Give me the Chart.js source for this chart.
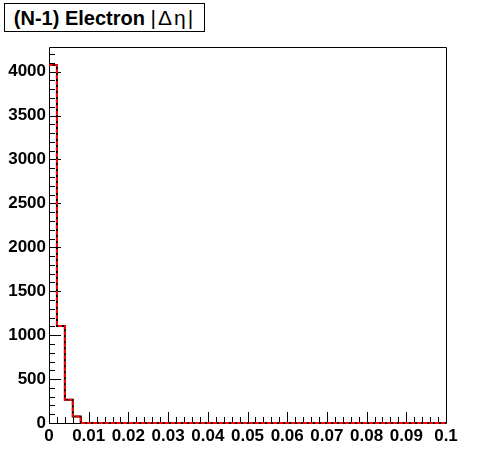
<!DOCTYPE html>
<html>
<head>
<meta charset="utf-8">
<script src="https://cdn.jsdelivr.net/npm/chart.js@4/dist/chart.umd.min.js"></script>
<style>
  html, body { margin: 0; padding: 0; background: #fff; }
  #wrap { position: relative; width: 496px; height: 472px; }
  #title {
    position: absolute; left: 4px; top: 3px; width: 199px; height: 27px;
    border: 1px solid #000; background: #fff; box-sizing: content-box;
    font: bold 20px "Liberation Sans", Arial, sans-serif; color: #000;
    text-align: center; line-height: 28px; white-space: nowrap;
  }
  #title .sym { font-weight: normal; font-size: 21px; letter-spacing: 2px; }
  canvas { position: absolute; left: 0; top: 0; }
</style>
</head>
<body>
<div id="wrap">
  <canvas id="c" width="496" height="472"></canvas>
  <div id="title">(N-1) Electron <span class="sym">|Δη|</span></div>
</div>
<script>
// ---- data ----
const binLow = [0,0.002,0.004,0.006,0.008,0.010,0.012,0.014,0.016,0.018,
                0.020,0.022,0.024,0.026,0.028,0.030,0.032,0.034,0.036,0.038,
                0.040,0.042,0.044,0.046,0.048,0.050,0.052,0.054,0.056,0.058,
                0.060,0.062,0.064,0.066,0.068,0.070,0.072,0.074,0.076,0.078,
                0.080,0.082,0.084,0.086,0.088,0.090,0.092,0.094,0.096,0.098];
const counts = [4075,1105,265,75,0,0,0,0,0,0,
                0,0,0,0,0,0,0,0,0,0,
                0,0,0,0,0,0,0,0,0,0,
                0,0,0,0,0,0,0,0,0,0,
                0,0,0,0,0,0,0,0,0,0];
const xMin = 0, xMax = 0.1;
const yMin = 0, yMax = 4280;
const xTicks = [0,0.01,0.02,0.03,0.04,0.05,0.06,0.07,0.08,0.09,0.1];
const xTickLabels = ['0','0.01','0.02','0.03','0.04','0.05','0.06','0.07','0.08','0.09','0.1'];
const yTicks = [0,500,1000,1500,2000,2500,3000,3500,4000];
const yTickLabels = ['0','500','1000','1500','2000','2500','3000','3500','4000'];

function histPoints() {
  const pts = [];
  for (let i = 0; i < binLow.length; i++) pts.push({x: binLow[i], y: counts[i]});
  pts.push({x: xMax, y: counts[counts.length - 1]});
  return pts;
}

const FONT = {family: '"Liberation Sans", Arial, sans-serif', size: 17, weight: 'bold'};

const framePlugin = {
  id: 'rootFrame',
  beforeDatasetsDraw(chart) {
    const {ctx, chartArea: a, scales: {x, y}} = chart;
    ctx.save();
    ctx.strokeStyle = '#000';
    ctx.lineWidth = 1;
    ctx.beginPath();
    ctx.rect(Math.round(a.left) + 0.5, Math.round(a.top) + 0.5,
             Math.round(a.right - a.left), Math.round(a.bottom - a.top));
    ctx.stroke();
    const yStep = yTicks[1] - yTicks[0];
    ctx.beginPath();
    for (let v = yMin; v <= yMax + 1e-9; v += yStep / 5) {
      const py = Math.round(y.getPixelForValue(v)) + 0.5;
      const major = Math.abs(v / yStep - Math.round(v / yStep)) < 1e-6;
      const len = major ? 12 : 6;
      ctx.moveTo(a.left, py); ctx.lineTo(a.left + len, py);
    }
    const xStep = xTicks[1] - xTicks[0];
    for (let k = 0; k <= 50; k++) {
      const v = xMin + k * xStep / 5;
      const px = Math.round(x.getPixelForValue(v)) + 0.5;
      const len = (k % 5 === 0) ? 11 : 6;
      ctx.moveTo(px, a.bottom); ctx.lineTo(px, a.bottom - len);
    }
    ctx.stroke();
    ctx.restore();
  }
};

new Chart(document.getElementById('c'), {
  type: 'line',
  data: {
    datasets: [
      {
        data: histPoints(),
        stepped: 'before',
        borderColor: '#ff0000',
        borderWidth: 2,
        borderDash: [4, 2],
        pointRadius: 0,
        fill: false,
        clip: false,
        order: 0
      },
      {
        data: histPoints(),
        stepped: 'before',
        borderColor: '#000',
        borderWidth: 2,
        pointRadius: 0,
        fill: false,
        clip: false,
        order: 1
      }
    ]
  },
  options: {
    responsive: false,
    animation: false,
    events: [],
    layout: {padding: {left: 0, top: 47, right: 50, bottom: 0}},
    plugins: {legend: {display: false}, tooltip: {enabled: false}, title: {display: false}},
    scales: {
      x: {
        type: 'linear', min: xMin, max: xMax,
        grid: {display: false, drawTicks: false},
        border: {display: false},
        afterBuildTicks: s => { s.ticks = xTicks.map(v => ({value: v})); },
        afterFit: s => { s.height = 49; },
        ticks: {
          color: '#000', font: FONT, padding: 3, maxRotation: 0, autoSkip: false,
          callback: (v) => { const i = xTicks.findIndex(t => Math.abs(t - v) < 1e-9); return i >= 0 ? xTickLabels[i] : ''; }
        }
      },
      y: {
        type: 'linear', min: yMin, max: yMax,
        grid: {display: false, drawTicks: false},
        border: {display: false},
        afterBuildTicks: s => { s.ticks = yTicks.map(v => ({value: v})); },
        afterFit: s => { s.width = 49; },
        ticks: {
          color: '#000', font: FONT, padding: 3, autoSkip: false,
          callback: (v) => { const i = yTicks.indexOf(v); return i >= 0 ? yTickLabels[i] : ''; }
        }
      }
    }
  },
  plugins: [framePlugin]
});
</script>
</body>
</html>
